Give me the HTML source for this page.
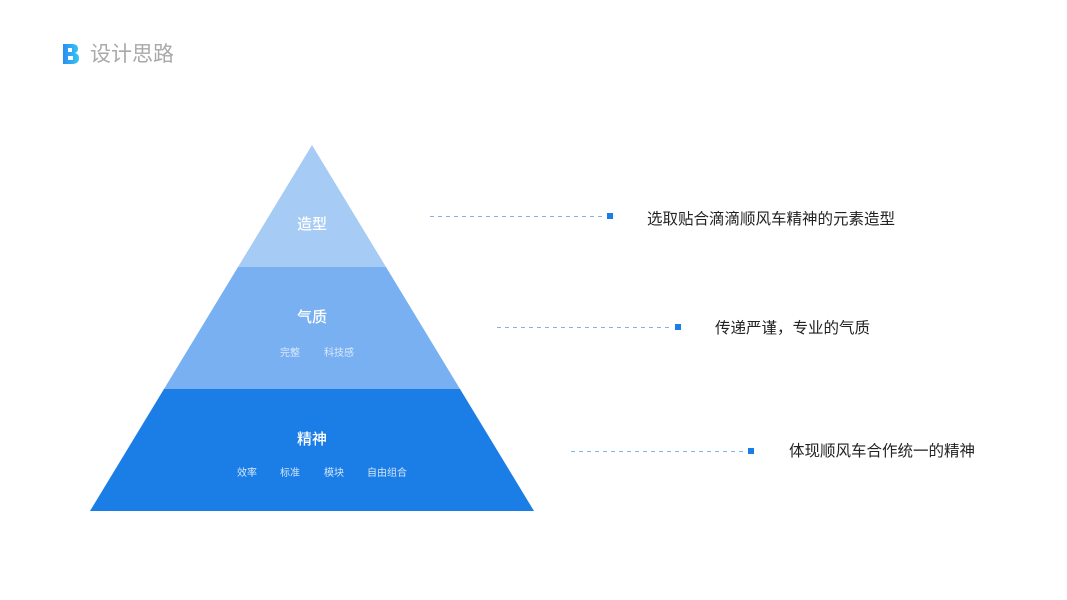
<!DOCTYPE html>
<html><head><meta charset="utf-8"><style>
body{margin:0;width:1067px;height:600px;background:#fff;overflow:hidden;font-family:"Liberation Sans","Noto Sans CJK SC",sans-serif;}
</style></head><body>
<svg width="1067" height="600" xmlns="http://www.w3.org/2000/svg" style="position:absolute;left:0;top:0">
<defs><linearGradient id="g" x1="0" x2="1"><stop offset="0" stop-color="#2a8ff0"/><stop offset="1" stop-color="#35c5f5"/></linearGradient></defs>
<path d="M63 44h9q6 0 6 5q0 3-3 4q4 1 4 5q0 6-7 6h-9z M68 48v4h4v-4z M68 56v4h5v-4z" fill="url(#g)" fill-rule="evenodd"/>
<text x="90" y="61" font-size="21" fill="#a9a9a9" font-family="Noto Sans CJK SC,sans-serif">设计思路</text>
<polygon points="312,145 386,267 238,267" fill="#a6cbf5"/>
<polygon points="238,267 386,267 460,389 164,389" fill="#78b0f2"/>
<polygon points="164,389 460,389 534,511 90,511" fill="#1b7de6"/>
<g font-family="Noto Sans CJK SC,sans-serif" fill="#fff" text-anchor="middle">
<text x="312" y="229" font-size="15" font-weight="500">造型</text>
<text x="312" y="322" font-size="15" font-weight="500">气质</text>
<text x="290" y="356" font-size="10" fill="#dbe9fb">完整</text>
<text x="339" y="356" font-size="10" fill="#dbe9fb">科技感</text>
<text x="312" y="444" font-size="15" font-weight="500">精神</text>
<text x="247" y="476" font-size="10" fill="#d3e6fb">效率</text>
<text x="290" y="476" font-size="10" fill="#d3e6fb">标准</text>
<text x="334" y="476" font-size="10" fill="#d3e6fb">模块</text>
<text x="387" y="476" font-size="10" fill="#d3e6fb">自由组合</text>
</g>
<g stroke="#7fb3ee" stroke-width="1" stroke-dasharray="4,4">
<line x1="430" y1="216.5" x2="604" y2="216.5"/>
<line x1="497" y1="327.5" x2="672" y2="327.5"/>
<line x1="571" y1="451.5" x2="745" y2="451.5"/>
</g>
<g fill="#1b7de6">
<rect x="607" y="213" width="6" height="6"/>
<rect x="675" y="324" width="6" height="6"/>
<rect x="748" y="448" width="6" height="6"/>
</g>
<g font-family="Noto Sans CJK SC,sans-serif" fill="#222" font-size="15.5">
<text x="647" y="224">选取贴合滴滴顺风车精神的元素造型</text>
<text x="715" y="333">传递严谨，专业的气质</text>
<text x="789" y="456">体现顺风车合作统一的精神</text>
</g>
</svg>
</body></html>
